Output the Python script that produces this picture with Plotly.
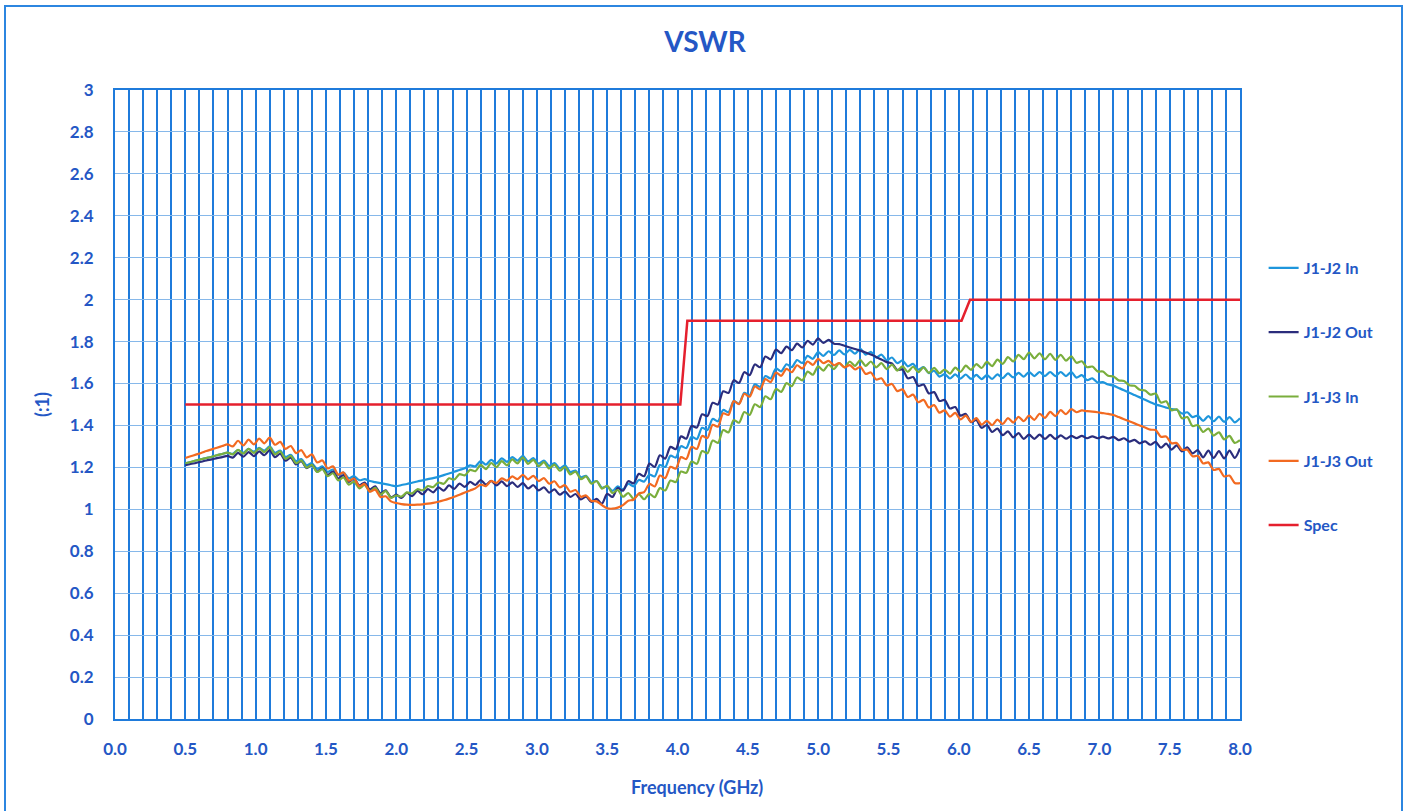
import plotly.graph_objects as go

# Frequency sample positions (GHz), 0.5 to 8.0 in 0.0375 GHz steps
freq = [round(0.5 + 0.0375 * i, 4) for i in range(201)]

j1j2_in = [
1.220,1.226,1.233,1.239,1.245,1.251,1.258,1.264,
1.270,1.265,1.283,1.270,1.288,1.275,1.293,1.280,
1.300,1.270,1.280,1.250,1.260,1.230,1.240,1.210,
1.220,1.193,1.205,1.178,1.190,1.163,1.175,1.148,
1.158,1.139,1.144,1.135,1.130,1.125,1.120,1.115,
1.110,1.116,1.121,1.127,1.133,1.138,1.144,1.149,
1.155,1.163,1.171,1.179,1.188,1.196,1.210,1.205,
1.230,1.213,1.236,1.219,1.243,1.226,1.249,1.232,
1.255,1.229,1.244,1.218,1.233,1.207,1.221,1.196,
1.210,1.178,1.185,1.153,1.160,1.128,1.135,1.103,
1.110,1.088,1.110,1.095,1.122,1.110,1.140,1.132,
1.166,1.157,1.211,1.202,1.256,1.247,1.301,1.292,
1.346,1.335,1.389,1.378,1.431,1.420,1.474,1.463,
1.516,1.504,1.556,1.544,1.596,1.584,1.636,1.624,
1.672,1.658,1.692,1.678,1.712,1.698,1.732,1.718,
1.750,1.732,1.754,1.736,1.758,1.739,1.761,1.743,
1.765,1.738,1.751,1.724,1.738,1.711,1.724,1.697,
1.710,1.682,1.694,1.666,1.678,1.649,1.661,1.633,
1.645,1.624,1.644,1.623,1.643,1.622,1.641,1.621,
1.640,1.622,1.644,1.626,1.648,1.629,1.651,1.633,
1.655,1.635,1.655,1.635,1.655,1.635,1.655,1.635,
1.655,1.628,1.640,1.616,1.625,1.605,1.607,1.595,
1.590,1.579,1.568,1.556,1.545,1.534,1.523,1.511,
1.500,1.493,1.485,1.478,1.475,1.457,1.463,1.440,
1.447,1.422,1.445,1.420,1.442,1.417,1.440,1.415,
1.435]

j1j2_out = [
1.210,1.216,1.221,1.227,1.233,1.238,1.244,1.249,
1.255,1.247,1.269,1.251,1.273,1.254,1.276,1.258,
1.282,1.249,1.265,1.232,1.247,1.214,1.230,1.197,
1.212,1.180,1.196,1.164,1.180,1.147,1.163,1.131,
1.147,1.114,1.128,1.095,1.110,1.076,1.091,1.057,
1.070,1.054,1.079,1.063,1.088,1.072,1.096,1.081,
1.105,1.089,1.114,1.098,1.123,1.107,1.131,1.116,
1.140,1.118,1.136,1.114,1.133,1.111,1.129,1.107,
1.125,1.100,1.115,1.090,1.105,1.080,1.095,1.070,
1.085,1.059,1.073,1.047,1.061,1.035,1.050,1.027,
1.074,1.059,1.102,1.089,1.134,1.124,1.169,1.158,
1.218,1.202,1.258,1.242,1.298,1.287,1.348,1.337,
1.398,1.390,1.453,1.445,1.508,1.500,1.563,1.555,
1.616,1.603,1.654,1.640,1.691,1.678,1.729,1.715,
1.762,1.745,1.776,1.759,1.790,1.772,1.803,1.786,
1.815,1.794,1.808,1.790,1.788,1.780,1.772,1.765,
1.757,1.748,1.738,1.727,1.715,1.702,1.696,1.665,
1.667,1.625,1.631,1.589,1.595,1.553,1.559,1.517,
1.522,1.481,1.488,1.447,1.455,1.416,1.426,1.389,
1.402,1.369,1.385,1.354,1.372,1.343,1.363,1.336,
1.356,1.336,1.356,1.336,1.355,1.336,1.353,1.337,
1.350,1.340,1.350,1.339,1.348,1.339,1.347,1.338,
1.346,1.330,1.339,1.323,1.331,1.315,1.324,1.308,
1.322,1.294,1.313,1.285,1.305,1.276,1.296,1.267,
1.282,1.248,1.280,1.245,1.278,1.243,1.280,1.245,
1.290]

j1j3_in = [
1.220,1.226,1.233,1.239,1.245,1.251,1.258,1.264,
1.270,1.262,1.284,1.266,1.288,1.269,1.291,1.273,
1.297,1.262,1.276,1.241,1.255,1.220,1.233,1.199,
1.212,1.178,1.192,1.158,1.172,1.138,1.152,1.118,
1.132,1.100,1.117,1.085,1.102,1.070,1.087,1.055,
1.066,1.061,1.081,1.076,1.096,1.091,1.111,1.106,
1.128,1.122,1.148,1.142,1.168,1.162,1.188,1.182,
1.212,1.192,1.221,1.201,1.230,1.210,1.238,1.219,
1.247,1.217,1.236,1.206,1.225,1.195,1.213,1.184,
1.202,1.167,1.180,1.144,1.157,1.122,1.135,1.099,
1.112,1.078,1.092,1.060,1.078,1.050,1.072,1.048,
1.074,1.058,1.101,1.090,1.137,1.130,1.180,1.174,
1.228,1.217,1.278,1.267,1.328,1.317,1.378,1.367,
1.426,1.413,1.464,1.450,1.501,1.488,1.539,1.525,
1.574,1.560,1.602,1.587,1.629,1.615,1.657,1.642,
1.682,1.662,1.690,1.669,1.697,1.677,1.705,1.684,
1.712,1.684,1.705,1.677,1.697,1.669,1.690,1.662,
1.682,1.656,1.680,1.654,1.677,1.651,1.675,1.649,
1.667,1.647,1.676,1.656,1.685,1.665,1.693,1.674,
1.703,1.683,1.714,1.694,1.726,1.705,1.737,1.716,
1.748,1.720,1.744,1.716,1.741,1.713,1.737,1.709,
1.730,1.699,1.706,1.678,1.681,1.658,1.657,1.637,
1.634,1.615,1.612,1.592,1.589,1.570,1.567,1.547,
1.552,1.509,1.515,1.472,1.477,1.434,1.440,1.397,
1.402,1.369,1.385,1.352,1.367,1.334,1.350,1.317,
1.330]

j1j3_out = [
1.245,1.253,1.261,1.269,1.278,1.286,1.294,1.302,
1.310,1.300,1.327,1.305,1.332,1.310,1.337,1.315,
1.342,1.308,1.322,1.288,1.302,1.268,1.282,1.248,
1.262,1.224,1.233,1.195,1.205,1.166,1.176,1.137,
1.147,1.110,1.121,1.084,1.094,1.059,1.062,1.038,
1.030,1.025,1.022,1.021,1.022,1.024,1.027,1.031,
1.036,1.043,1.051,1.060,1.070,1.080,1.090,1.100,
1.118,1.111,1.135,1.126,1.148,1.137,1.157,1.144,
1.165,1.143,1.160,1.135,1.149,1.122,1.134,1.105,
1.115,1.084,1.092,1.060,1.066,1.040,1.038,1.020,
1.005,1.003,1.008,1.020,1.041,1.046,1.076,1.082,
1.121,1.109,1.161,1.149,1.203,1.194,1.249,1.240,
1.298,1.288,1.350,1.340,1.403,1.394,1.458,1.450,
1.516,1.502,1.551,1.537,1.586,1.572,1.621,1.607,
1.652,1.637,1.670,1.654,1.687,1.672,1.705,1.689,
1.718,1.697,1.708,1.687,1.698,1.677,1.688,1.667,
1.680,1.646,1.653,1.619,1.625,1.591,1.598,1.564,
1.572,1.536,1.547,1.511,1.522,1.486,1.497,1.461,
1.472,1.442,1.460,1.429,1.447,1.417,1.435,1.404,
1.422,1.401,1.428,1.407,1.435,1.414,1.441,1.420,
1.447,1.427,1.456,1.436,1.465,1.445,1.473,1.454,
1.478,1.463,1.472,1.468,1.466,1.463,1.459,1.455,
1.450,1.440,1.430,1.420,1.410,1.400,1.390,1.380,
1.378,1.346,1.347,1.315,1.316,1.284,1.284,1.253,
1.255,1.219,1.224,1.188,1.193,1.157,1.161,1.126,
1.125]

spec_freq = [0.5, 4.02, 4.07, 6.02, 6.08, 8.0]
spec_vals = [1.5, 1.5, 1.9, 1.9, 2.0, 2.0]

series_names = ["J1-J2 In", "J1-J2 Out", "J1-J3 In", "J1-J3 Out"]
series_vals = [j1j2_in, j1j2_out, j1j3_in, j1j3_out]
series_colors = ["#1E96DC", "#2B2D7C", "#7AAE3C", "#F26A21"]

TEXT_BLUE = "#2457C5"
FONT = "Lato"

fig = go.Figure()
for name, vals, col in zip(series_names, series_vals, series_colors):
    fig.add_trace(go.Scatter(
        x=freq, y=vals, mode="lines", name=name, legendgroup=name,
        line=dict(color=col, width=2.2, shape="spline", smoothing=0.8),
    ))
fig.add_trace(go.Scatter(
    x=spec_freq, y=spec_vals, mode="lines", name="Spec", legendgroup="Spec",
    line=dict(color="#E5202E", width=2.5),
))

fig.update_layout(
    width=1413, height=811,
    margin=dict(l=115, r=173, t=90, b=92),
    paper_bgcolor="white", plot_bgcolor="white",
    title=dict(text="<b>VSWR</b>", x=705 / 1413, xref="container", xanchor="center",
               y=1 - 42 / 811, yref="container", yanchor="middle",
               font=dict(family=FONT, size=28, color=TEXT_BLUE)),
    showlegend=True,
    legend=dict(x=1.021, xanchor="left", y=0.744, yanchor="top",
                traceorder="grouped", tracegroupgap=40.5,
                font=dict(family=FONT, size=16, color=TEXT_BLUE, weight="bold"),
                bgcolor="rgba(0,0,0,0)"),
    xaxis=dict(range=[0, 8], dtick=0.5, tick0=0, tickformat=".1f",
               showgrid=True, gridcolor="#1F7BDB", gridwidth=2,
               minor=dict(dtick=0.1, showgrid=True, gridcolor="#1F7BDB", gridwidth=2),
               showline=True, linecolor="#1F7BDB", linewidth=2, mirror=True,
               zeroline=False, ticks="", ticklabelstandoff=14,
               tickfont=dict(family=FONT, size=17, color=TEXT_BLUE, weight="bold")),
    yaxis=dict(range=[0, 3], dtick=0.2, tick0=0,
               showgrid=True, gridcolor="#86B8EA", gridwidth=1,
               showline=True, linecolor="#1F7BDB", linewidth=2, mirror=True,
               zeroline=False, ticks="", ticklabelstandoff=16,
               tickfont=dict(family=FONT, size=17, color=TEXT_BLUE, weight="bold")),
    annotations=[
        dict(text="<b>Frequency (GHz)</b>", x=(697 - 115) / 1125, y=-(787 - 719) / 629,
             xref="paper", yref="paper", showarrow=False, xanchor="center", yanchor="middle",
             font=dict(family=FONT, size=18, color=TEXT_BLUE)),
        dict(text="<b>(:1)</b>", x=-(115 - 42) / 1125, y=(719 - 405) / 629,
             xref="paper", yref="paper", showarrow=False, textangle=-90,
             xanchor="center", yanchor="middle",
             font=dict(family=FONT, size=18, color=TEXT_BLUE)),
    ],
    shapes=[dict(type="rect", xref="paper", yref="paper",
                 x0=-(115 - 5) / 1125, x1=(1402 - 115) / 1125,
                 y0=-(830 - 719) / 629, y1=(719 - 6) / 629,
                 line=dict(color="#2C86E0", width=2), layer="below")],
)

fig.write_html("out.html", config={"displayModeBar": False},
               post_script="document.body.style.margin='0';")
